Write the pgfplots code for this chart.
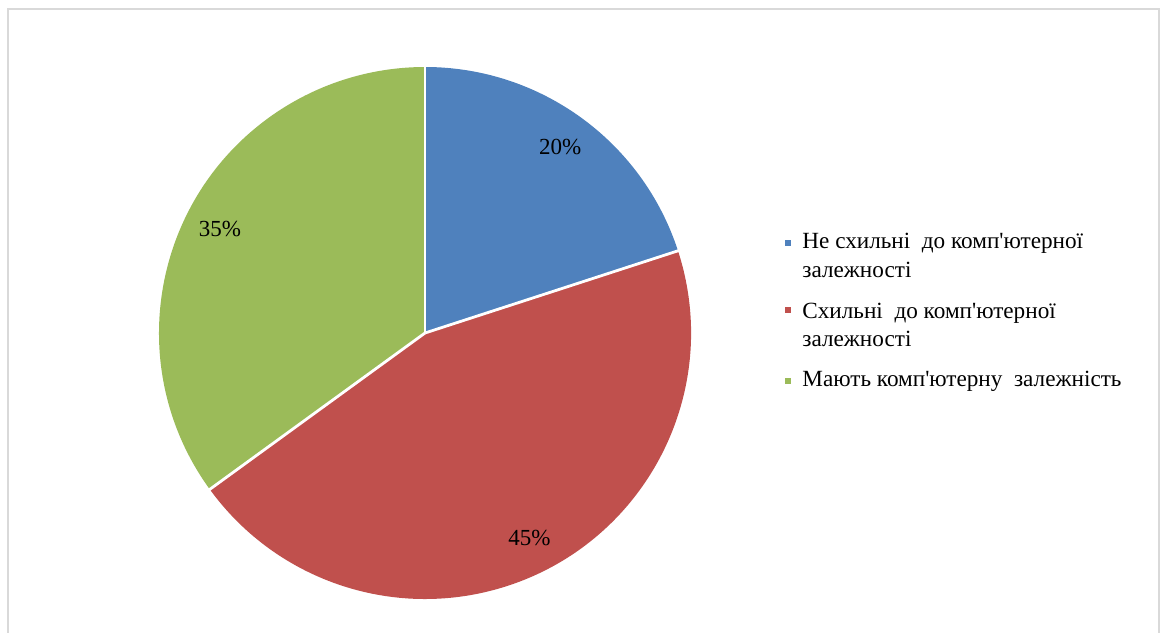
\documentclass[border=0pt]{standalone}
\usepackage{fontspec}
\setmainfont{Liberation Serif}[Ligatures=TeXOff]
\usepackage{pgfplots}
\usepackage{pgfplotstable}
\pgfplotsset{compat=1.18}
\definecolor{pieblue}{HTML}{4F81BD}
\definecolor{piered}{HTML}{C0504D}
\definecolor{piegreen}{HTML}{9BBB59}
\definecolor{framegray}{HTML}{D9D9D9}

\pgfplotstableread{
idx value
0 20
1 45
2 35
}\piedata

\begin{document}%
\begin{tikzpicture}
\pgfplotstablegetelem{0}{value}\of\piedata \edef\vA{\pgfplotsretval}
\pgfplotstablegetelem{1}{value}\of\piedata \edef\vB{\pgfplotsretval}
\pgfplotstablegetelem{2}{value}\of\piedata \edef\vC{\pgfplotsretval}
\pgfmathsetmacro\aA{90}
\pgfmathsetmacro\aB{\aA-3.6*\vA}
\pgfmathsetmacro\aC{\aB-3.6*\vB}
\pgfmathsetmacro\aD{\aC-3.6*\vC}
\pgfmathsetmacro\mA{(\aA+\aB)/2}
\pgfmathsetmacro\mB{(\aB+\aC)/2}
\pgfmathsetmacro\mC{(\aC+\aD)/2}
\begin{axis}[
  at={(0,0)}, anchor=south west,
  x=0.5pt, y=0.5pt,
  xmin=0, xmax=1160, ymin=0, ymax=632,
  hide axis, clip=false,
]
% frame
\draw[framegray, line width=0.8pt] (axis cs:8,-10) -- (axis cs:8,623) -- (axis cs:1159,623) -- (axis cs:1159,-10);
% sectors
\fill[pieblue] (axis cs:425,299) -- ++(\aA:133pt) arc[start angle=\aA, end angle=\aB, radius=133pt] -- cycle;
\fill[piered] (axis cs:425,299) -- ++(\aB:133pt) arc[start angle=\aB, end angle=\aC, radius=133pt] -- cycle;
\fill[piegreen] (axis cs:425,299) -- ++(\aC:133pt) arc[start angle=\aC, end angle=\aD, radius=133pt] -- cycle;
% separators
\draw[white, line width=1.4pt] (axis cs:425,299) -- ++(\aA:134pt);
\draw[white, line width=1.4pt] (axis cs:425,299) -- ++(\aB:134pt);
\draw[white, line width=1.4pt] (axis cs:425,299) -- ++(\aC:134pt);
% labels
\path (axis cs:425,299) ++(\mA:115pt) node[font=\fontsize{11.5}{13}\selectfont] {\vA\%};
\path (axis cs:425,299) ++(\mB:115pt) node[font=\fontsize{11.5}{13}\selectfont] {\vB\%};
\path (axis cs:425,299) ++(\mC:115pt) node[font=\fontsize{11.5}{13}\selectfont] {\vC\%};
% legend
\fill[pieblue] (axis cs:785,386) rectangle (axis cs:791,392);
\fill[piered] (axis cs:785,319) rectangle (axis cs:791,325);
\fill[piegreen] (axis cs:785,248) rectangle (axis cs:791,254);
\begin{scope}[every node/.style={anchor=base west, inner sep=0pt, font=\fontsize{11.6}{13}\selectfont}]
\node at (axis cs:802,383) {Не схильні\ \ до комп'ютерної};
\node at (axis cs:802,355) {залежності};
\node at (axis cs:802,314) {Схильні\ \ до комп'ютерної};
\node at (axis cs:802,286) {залежності};
\node at (axis cs:802,246) {Мають комп'ютерну\ \ залежність};
\end{scope}
\end{axis}
\pgfresetboundingbox
\path (0,0) rectangle (580pt,316pt);
\end{tikzpicture}%
\end{document}
